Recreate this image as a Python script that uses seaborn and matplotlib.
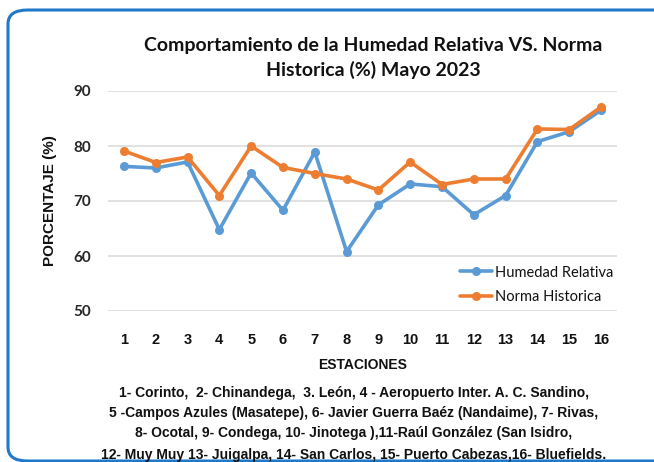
import numpy as np
import pandas as pd
import matplotlib
matplotlib.use("Agg")
import matplotlib.pyplot as plt
from matplotlib.patches import FancyBboxPatch
import seaborn as sns

# ---- data ----
estaciones = list(range(1, 17))
humedad_relativa = [76.3, 76.0, 77.1, 64.8, 75.1, 68.3, 78.9, 60.8,
                    69.3, 73.1, 72.6, 67.5, 71.0, 80.8, 82.6, 86.5]
norma_historica = [79.1, 77.0, 78.0, 71.0, 80.0, 76.1, 75.0, 74.0,
                   72.0, 77.1, 73.0, 74.0, 74.0, 83.1, 83.0, 87.1]
series_names = ["Humedad Relativa", "Norma Historica"]
y_ticks = [50, 60, 70, 80, 90]
title_text = "Comportamiento de la Humedad Relativa VS. Norma\nHistorica (%) Mayo 2023"
ylabel_text = "PORCENTAJE (%)"
xlabel_text = "ESTACIONES"
notes = [
    "1- Corinto,  2- Chinandega,  3. León, 4 - Aeropuerto Inter. A. C. Sandino,",
    "5 -Campos Azules (Masatepe), 6- Javier Guerra Baéz (Nandaime), 7- Rivas,",
    "8- Ocotal, 9- Condega, 10- Jinotega ),11-Raúl González (San Isidro,",
    "12- Muy Muy 13- Juigalpa, 14- San Carlos, 15- Puerto Cabezas,16- Bluefields.",
]

df = pd.DataFrame({
    "estacion": estaciones * 2,
    "valor": humedad_relativa + norma_historica,
    "serie": [series_names[0]] * 16 + [series_names[1]] * 16,
})

sns.set_theme(style="white")
plt.rcParams["font.family"] = ["Lato", "DejaVu Sans"]

W, H = 654, 462
fig = plt.figure(figsize=(W / 100, H / 100), dpi=100)
fig.patch.set_facecolor("white")

# rounded blue frame
frame = FancyBboxPatch((8 / W, 1 - 461 / H), (700 - 8) / W, (461 - 10) / H,
                       boxstyle="round,pad=0,rounding_size=0.03",
                       transform=fig.transFigure, fill=False,
                       edgecolor="#1F78C8", linewidth=2.2, clip_on=False)
fig.patches.append(frame)

ax = fig.add_axes([108 / W, 1 - 311 / H, (617 - 108) / W, (311 - 91) / H])
ax.set_facecolor("white")

palette = {series_names[0]: "#5B9BD5", series_names[1]: "#ED7D31"}
sns.lineplot(data=df, x="estacion", y="valor", hue="serie", palette=palette,
             marker="o", markersize=6.5, markeredgewidth=0, linewidth=2.6,
             ax=ax, zorder=3)

ax.set_xlim(0.5, 16.5)
ax.set_ylim(50, 90)
ax.set_yticks(y_ticks)
ax.set_xticks(estaciones)
ax.grid(axis="y", color="#D9D9D9", linewidth=1.1, zorder=0)
ax.grid(axis="x", visible=False)
for s in ax.spines.values():
    s.set_visible(False)
ax.tick_params(axis="both", length=0)
ax.tick_params(axis="y", pad=12)
ax.tick_params(axis="x", pad=16)

narrow = ["Liberation Sans Narrow", "Liberation Sans", "DejaVu Sans"]
for lbl in ax.get_yticklabels():
    lbl.set_fontfamily(["Lato", "DejaVu Sans"])
    lbl.set_fontweight("bold")
    lbl.set_fontsize(11)
    lbl.set_color("#262626")
for lbl in ax.get_xticklabels():
    lbl.set_fontfamily(narrow)
    lbl.set_fontweight("bold")
    lbl.set_fontsize(10.5)
    lbl.set_color("#111111")

ax.set_xlabel(xlabel_text, fontfamily=narrow, fontweight="bold", fontsize=10,
              color="#111111", labelpad=8)
ax.set_ylabel(ylabel_text, fontfamily=["Liberation Sans", "DejaVu Sans"],
              fontweight="bold", fontsize=11, color="#111111", labelpad=12)

handles, labels = ax.get_legend_handles_labels()
leg = ax.legend(handles, labels, loc="lower right", bbox_to_anchor=(1.01, -0.01),
                frameon=False, fontsize=10.5, handlelength=2.2,
                handletextpad=0.2, labelspacing=0.75, borderaxespad=0.2)
for t in leg.get_texts():
    t.set_color("#111111")

fig.text(373 / W, 1 - 58 / H, title_text, ha="center", va="center",
         fontsize=14, fontweight="bold", color="#111111",
         linespacing=1.45, fontfamily=["Lato", "DejaVu Sans"])

for i, line in enumerate(notes):
    y = [393, 413, 433, 455][i]
    fig.text(354 / W, 1 - y / H, line, ha="center", va="center",
             fontsize=10, fontweight="bold", color="#111111",
             fontfamily=narrow)

fig.savefig("out.png", dpi=100, facecolor="white")
